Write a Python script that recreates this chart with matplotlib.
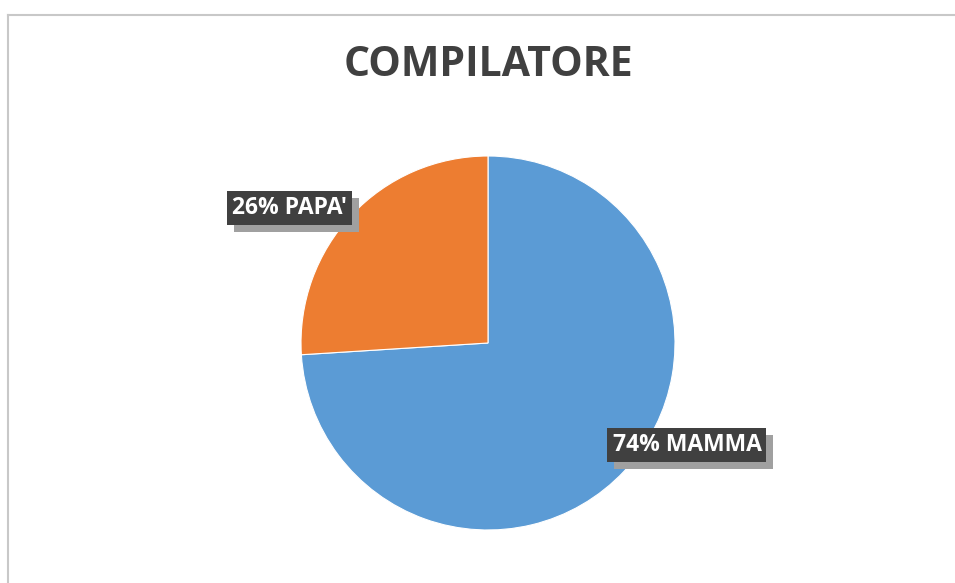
import matplotlib
matplotlib.use('Agg')
import matplotlib.pyplot as plt
import matplotlib.patheffects as pe
from matplotlib.lines import Line2D

# dati
labels = ["MAMMA", "PAPA'"]
values = [74, 26]
colors = ['#5B9BD5', '#ED7D31']
label_pos = [(1.064, -0.545), (-1.06, 0.72)]

W, H = 955, 583
fig = plt.figure(figsize=(W / 100, H / 100), dpi=100)
ax = fig.add_axes([0, 0, 1, 1])

# centro e raggio in pixel
cx, cy, r = 488, 240, 187

ax.pie(values, colors=colors, startangle=90, counterclock=False,
       wedgeprops=dict(edgecolor='white', linewidth=0.8))
ax.set_xlim(-cx / r, (W - cx) / r)
ax.set_ylim(-cy / r, (H - cy) / r)
ax.set_aspect('equal')
ax.axis('off')

# etichette con riquadro scuro e ombra
for lab, v, (x, y) in zip(labels, values, label_pos):
    t = ax.text(x, y, f"{v}% {lab}", ha='center', va='center',
                color='white', fontsize=16.5, fontweight='bold', family='Open Sans',
                bbox=dict(boxstyle='square,pad=0.22', facecolor='#404040', edgecolor='none'))
    t.get_bbox_patch().set_path_effects([
        pe.SimplePatchShadow(offset=(5, -5), shadow_rgbFace='#a0a0a0', alpha=1),
        pe.Normal()])

# titolo
fig.text(488 / W, 1 - 66 / H, "COMPILATORE", ha='center', va='center',
         fontsize=29.5, fontweight='bold', color='#404040', family='Open Sans')

# cornice
fig.add_artist(Line2D([8 / W, 8 / W], [0, 1 - 15 / H], color='#c8c8c8', linewidth=1.5))
fig.add_artist(Line2D([8 / W, 1], [1 - 15 / H, 1 - 15 / H], color='#c8c8c8', linewidth=1.5))

fig.savefig('out.png', dpi=100)
